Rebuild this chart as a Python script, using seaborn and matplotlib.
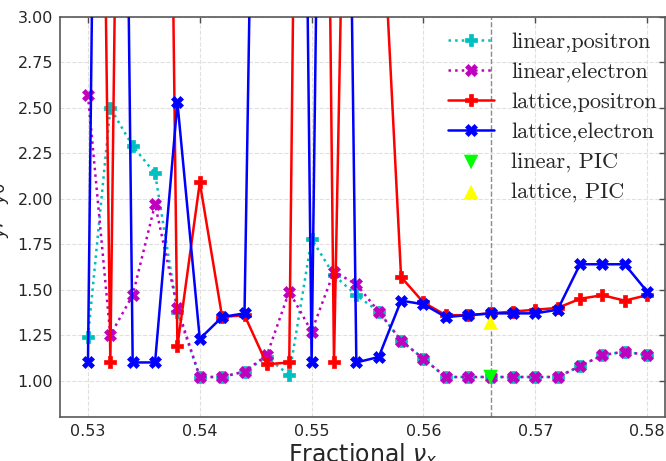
import numpy as np
import pandas as pd
import matplotlib
matplotlib.use("Agg")
import matplotlib.pyplot as plt
import seaborn as sns
from matplotlib.font_manager import FontProperties

# ---- data ----
nu_x = [0.530, 0.532, 0.534, 0.536, 0.538, 0.540, 0.542, 0.544, 0.546, 0.548,
        0.550, 0.552, 0.554, 0.556, 0.558, 0.560, 0.562, 0.564, 0.566, 0.568,
        0.570, 0.572, 0.574, 0.576, 0.578, 0.580]
linear_positron = [1.24, 2.50, 2.29, 2.14, 1.38, 1.02, 1.02, 1.05, 1.13, 1.03,
                   1.78, 1.58, 1.47, 1.38, 1.22, 1.12, 1.02, 1.02, 1.02, 1.02,
                   1.02, 1.02, 1.08, 1.14, 1.16, 1.14]
linear_electron = [2.57, 1.25, 1.47, 1.97, 1.40, 1.02, 1.02, 1.05, 1.14, 1.49,
                   1.27, 1.60, 1.53, 1.38, 1.22, 1.12, 1.02, 1.02, 1.02, 1.02,
                   1.02, 1.02, 1.08, 1.14, 1.16, 1.14]
lattice_positron = [10.8, 1.10, 11.0, 11.3, 1.19, 2.09, 1.35, 1.36, 1.09, 1.10,
                    12.5, 1.10, 7.5, 4.0, 1.57, 1.43, 1.36, 1.36, 1.37, 1.38,
                    1.39, 1.40, 1.45, 1.47, 1.44, 1.47]
lattice_electron = [1.10, 12.0, 1.10, 1.10, 2.53, 1.23, 1.35, 1.37, 9.0, 12.0,
                    1.10, 10.8, 1.10, 1.13, 1.44, 1.42, 1.35, 1.36, 1.37, 1.37,
                    1.37, 1.39, 1.64, 1.64, 1.64, 1.49]
pic_x = [0.566]
linear_pic = [1.02]
lattice_pic = [1.32]
series_labels = ["linear,positron", "linear,electron", "lattice,positron",
                 "lattice,electron", "linear, PIC", "lattice, PIC"]
x_ticks = [0.53, 0.54, 0.55, 0.56, 0.57, 0.58]
y_ticks = [1.00, 1.25, 1.50, 1.75, 2.00, 2.25, 2.50, 2.75, 3.00]

sns.set_style("whitegrid")
plt.rcParams['font.family'] = ['DejaVu Sans']
plt.rcParams['mathtext.fontset'] = 'dejavusans'

fig = plt.figure(figsize=(6.66, 4.61), dpi=100)
ax = fig.add_axes([60 / 666, 44 / 461, 605 / 666, 400 / 461])

ax.axvline(0.566, color='0.55', linestyle='--', linewidth=1.0, zorder=1)

styles = [
    (linear_positron, 'c', 'P', ':'),
    (linear_electron, 'm', 'X', ':'),
    (lattice_positron, 'r', 'P', '-'),
    (lattice_electron, 'b', 'X', '-'),
]
for (vals, col, mk, ls), lab in zip(styles, series_labels[:4]):
    sns.lineplot(x=nu_x, y=vals, ax=ax, color=col, marker=mk, linestyle=ls,
                 linewidth=1.8, markersize=9, markeredgecolor=col,
                 markeredgewidth=0.5, label=lab, zorder=3)

sns.scatterplot(x=pic_x, y=linear_pic, ax=ax, color='#00ff00', marker='v', s=110,
                edgecolor='none', label=series_labels[4], zorder=4)
sns.scatterplot(x=pic_x, y=lattice_pic, ax=ax, color='#ffff00', marker='^', s=110,
                edgecolor='none', label=series_labels[5], zorder=4)

ax.set_xlim(0.5275, 0.5816)
ax.set_ylim(0.80, 3.00)
ax.set_xticks(x_ticks)
ax.set_xticklabels([f"{t:.2f}" for t in x_ticks])
ax.set_yticks(y_ticks)
ax.set_yticklabels([f"{t:.2f}" for t in y_ticks])
ax.tick_params(axis='both', labelsize=11.5, direction='in', top=True, right=True,
               length=4, width=1, color='0.3', pad=5)
ax.grid(True, color='0.88', linestyle='--', linewidth=0.8)
for sp in ax.spines.values():
    sp.set_color('0.35')
    sp.set_linewidth(1.2)

ax.set_xlabel(r"Fractional $\nu_x$", fontsize=17, labelpad=2)
ax.set_ylabel(r"$\sigma_y/\sigma_{y0}$", fontsize=17)

leg = ax.legend(loc='upper right', bbox_to_anchor=(1.012, 1.0), frameon=False,
                prop=FontProperties(family='cmr10', size=16), handlelength=2.1,
                labelspacing=0.45, borderaxespad=0.3, handletextpad=0.75)

fig.savefig("out.png", dpi=100)
